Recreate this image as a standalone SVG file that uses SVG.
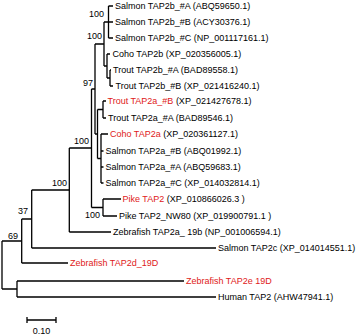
<svg xmlns="http://www.w3.org/2000/svg" width="358" height="335" viewBox="0 0 358 335">
<style>
text{font-family:"Liberation Sans",Arial,sans-serif;font-size:9px;fill:#000}
.r{fill:#e02020}
.bs{text-anchor:end}
#edges path{fill:none;stroke:#000;stroke-width:1.3}
</style>
<rect width="358" height="335" fill="#fff"/>
<g id="edges">
<path d="M108.5,6H113M108.5,22H113M108.5,38H113M108.5,6V38"/>
<path d="M110,70H111M110,86H113M110,70V86"/>
<path d="M107,54H110M107,78H110M107,54V78"/>
<path d="M104,22H108.5M104,66H107M104,22V66"/>
<path d="M103,101H106M103,118H106M103,101V118"/>
<path d="M101,134H108M101,151H103.5M101,167H103.5M101,183H103.5M101,134V183"/>
<path d="M97.5,109.5H103M97.5,158.5H101M97.5,109.5V158.5"/>
<path d="M95,44H104M95,134H97.5M95,44V134"/>
<path d="M103,199H121M103,216H117M103,199V216"/>
<path d="M91.5,89H95M91.5,207.5H103M91.5,89V207.5"/>
<path d="M69.3,148H91.5M69.3,232H111M69.3,148V232"/>
<path d="M31.7,190H69.3M31.7,248H216M31.7,190V248"/>
<path d="M21.7,219H31.7M21.7,263H68M21.7,219V263"/>
<path d="M17,281H184M17,297H216M17,281V297"/>
<path d="M2,241H21.7M2,289H17M2,241V289"/>
<path d="M27,320H56M27,317V323M56,317V323"/>
</g>
<g id="leaf1"><text x="115" y="9.3">Salmon TAP2b_#A (ABQ59650.1)</text></g>
<g id="leaf2"><text x="115" y="25.3">Salmon TAP2b_#B (ACY30376.1)</text></g>
<g id="leaf3"><text x="115" y="41.3">Salmon TAP2b_#C (NP_001117161.1)</text></g>
<g id="leaf4"><text x="112.5" y="57.3">Coho TAP2b (XP_020356005.1)</text></g>
<g id="leaf5"><text x="113" y="73.3">Trout TAP2b_#A (BAD89558.1)</text></g>
<g id="leaf6"><text x="115.5" y="89.3">Trout TAP2b_#B (XP_021416240.1)</text></g>
<g id="leaf7"><text x="107.5" y="104.3"><tspan class="r">Trout TAP2a_#B</tspan> (XP_021427678.1)</text></g>
<g id="leaf8"><text x="108" y="121.3">Trout TAP2a_#A (BAD89546.1)</text></g>
<g id="leaf9"><text x="110" y="137.3"><tspan class="r">Coho TAP2a</tspan> (XP_020361127.1)</text></g>
<g id="leaf10"><text x="105.5" y="154.3">Salmon TAP2a_#B (ABQ01992.1)</text></g>
<g id="leaf11"><text x="105.5" y="170.3">Salmon TAP2a_#A (ABQ59683.1)</text></g>
<g id="leaf12"><text x="105.5" y="186.3">Salmon TAP2a_#C (XP_014032814.1)</text></g>
<g id="leaf13"><text x="122.5" y="202.3"><tspan class="r">Pike TAP2</tspan> (XP_010866026.3 )</text></g>
<g id="leaf14"><text x="119" y="219.3">Pike TAP2_NW80 (XP_019900791.1 )</text></g>
<g id="leaf15"><text x="113" y="235.3">Zebrafish TAP2a_ 19b (NP_001006594.1)</text></g>
<g id="leaf16"><text x="218" y="251.3">Salmon TAP2c (XP_014014551.1)</text></g>
<g id="leaf17"><text class="r" x="70" y="266.3">Zebrafish TAP2d_19D</text></g>
<g id="leaf18"><text class="r" x="186" y="284.3">Zebrafish TAP2e 19D</text></g>
<g id="leaf19"><text x="218" y="300.3">Human TAP2 (AHW47941.1)</text></g>
<g id="bootstrap">
<text class="bs" x="104" y="17">100</text>
<text class="bs" x="102" y="39">100</text>
<text class="bs" x="93" y="86">97</text>
<text class="bs" x="89" y="144">100</text>
<text class="bs" x="100" y="218">100</text>
<text class="bs" x="67" y="186">100</text>
<text class="bs" x="28" y="214">37</text>
<text class="bs" x="18" y="239">69</text>
</g>
<g id="scale"><text x="41.5" y="334" text-anchor="middle">0.10</text></g>
</svg>
